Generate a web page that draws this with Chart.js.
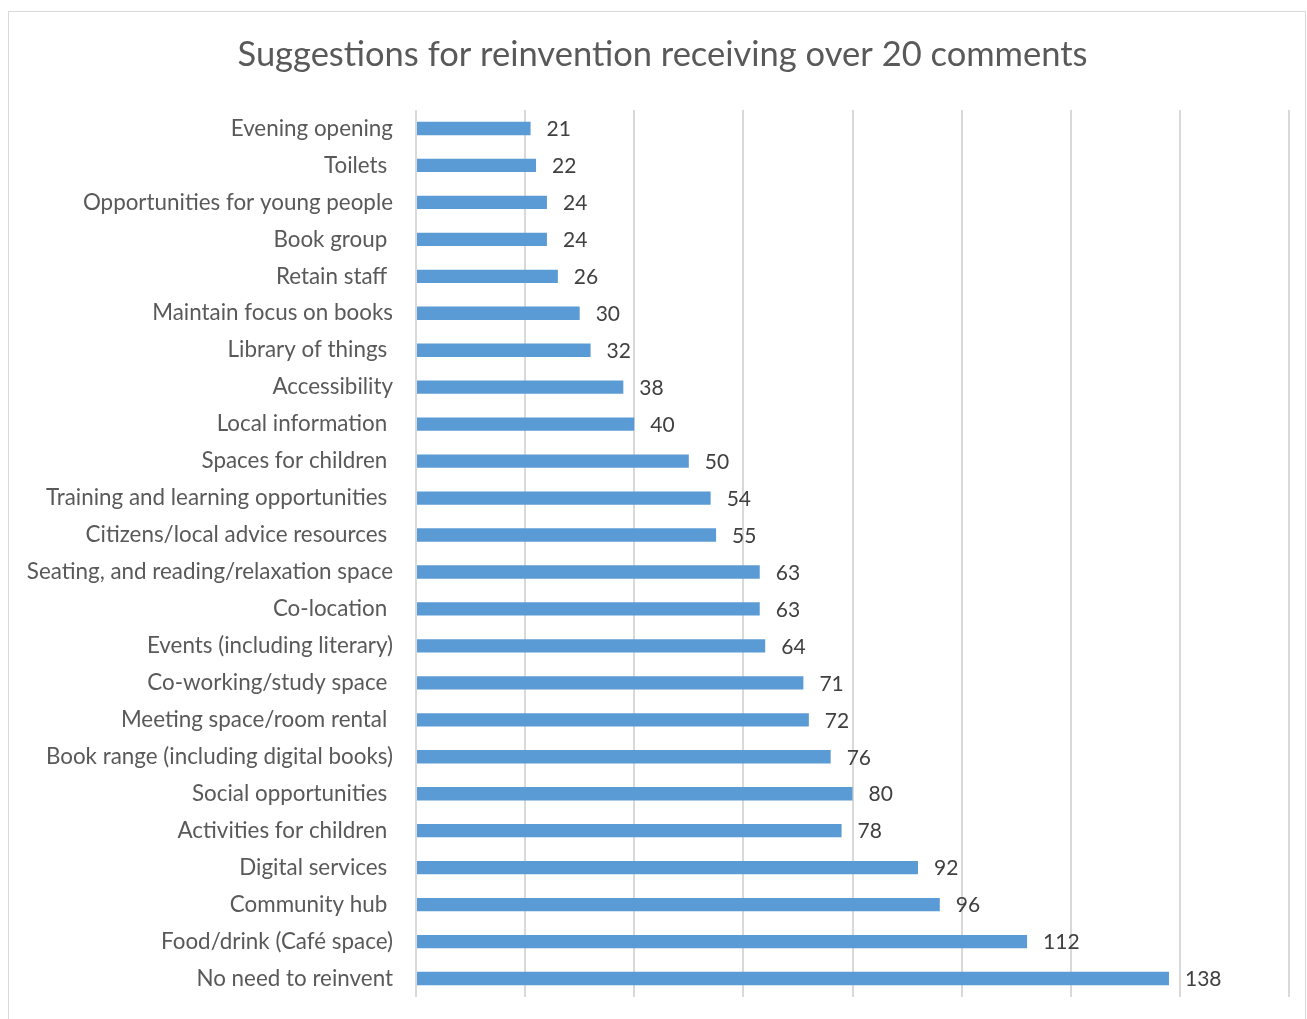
<!DOCTYPE html>
<html>
<head>
<meta charset="utf-8">
<script src="https://cdn.jsdelivr.net/npm/chart.js@4/dist/chart.umd.min.js"></script>
<style>
  html, body { margin: 0; padding: 0; background: #fff; overflow: hidden; }
  #frame {
    position: absolute; left: 8px; top: 11px; width: 1298px; height: 1008px;
    border: 1px solid #d9d9d9; border-bottom: none; box-sizing: border-box; pointer-events: none;
  }
  #chart { position: absolute; left: 0; top: 0; }
</style>
</head>
<body>
<canvas id="chart" width="1307" height="1019"></canvas>
<div id="frame"></div>
<script>
// suggestions with their comment counts, top to bottom
const suggestions = [
  "Evening opening",
  "Toilets ",
  "Opportunities for young people",
  "Book group ",
  "Retain staff ",
  "Maintain focus on books",
  "Library of things ",
  "Accessibility",
  "Local information ",
  "Spaces for children ",
  "Training and learning opportunities ",
  "Citizens/local advice resources ",
  "Seating, and reading/relaxation space",
  "Co-location ",
  "Events (including literary)",
  "Co-working/study space ",
  "Meeting space/room rental ",
  "Book range (including digital books)",
  "Social opportunities ",
  "Activities for children ",
  "Digital services ",
  "Community hub ",
  "Food/drink (Café space)",
  "No need to reinvent"
];
const comments = [21, 22, 24, 24, 26, 30, 32, 38, 40, 50, 54, 55, 63, 63, 64, 71, 72, 76, 80, 78, 92, 96, 112, 138];
const chartTitle = "Suggestions for reinvention receiving over 20 comments";

const FONT = "Lato, 'Liberation Sans', sans-serif";

// heading, centred on the whole frame rather than the plot
const heading = {
  id: "heading",
  afterDraw(chart) {
    const ctx = chart.ctx;
    ctx.save();
    ctx.font = "34.5px " + FONT;
    ctx.fillStyle = "#595959";
    ctx.textAlign = "center";
    ctx.textBaseline = "middle";
    ctx.fillText(chartTitle, 662.5, 55);
    ctx.restore();
  }
};

// writes each bar's count just past its end
const valueLabels = {
  id: "valueLabels",
  afterDatasetsDraw(chart) {
    const ctx = chart.ctx;
    const meta = chart.getDatasetMeta(0);
    ctx.save();
    ctx.font = "21px " + FONT;
    ctx.fillStyle = "#404040";
    ctx.textAlign = "left";
    ctx.textBaseline = "middle";
    meta.data.forEach((bar, i) => {
      ctx.fillText(String(comments[i]), bar.x + 16, bar.y + 1);
    });
    ctx.restore();
  }
};

new Chart(document.getElementById("chart"), {
  type: "bar",
  data: {
    labels: suggestions,
    datasets: [{
      data: comments,
      backgroundColor: "#5b9bd5",
      borderWidth: 0,
      barPercentage: 0.72,
      categoryPercentage: 0.5
    }]
  },
  options: {
    indexAxis: "y",
    responsive: false,
    animation: false,
    layout: { padding: { left: 0, right: 18, top: 110, bottom: 22 } },
    plugins: {
      legend: { display: false },
      tooltip: { enabled: false },
      title: { display: false }
    },
    scales: {
      x: {
        min: 0,
        max: 160,
        ticks: { display: false, stepSize: 20 },
        grid: { color: "#d9d9d9", lineWidth: 2, drawTicks: false },
        border: { display: false },
        afterFit(scale) { scale.height = 0; }
      },
      y: {
        grid: { display: false, drawTicks: false },
        border: { display: false },
        ticks: {
          color: "#595959",
          padding: 23,
          font: { family: FONT, size: 22.4 }
        },
        afterFit(scale) {
          scale.width = 416;
          scale.paddingTop = 0;
          scale.paddingBottom = 0;
        }
      }
    }
  },
  plugins: [valueLabels, heading]
});
</script>
</body>
</html>
